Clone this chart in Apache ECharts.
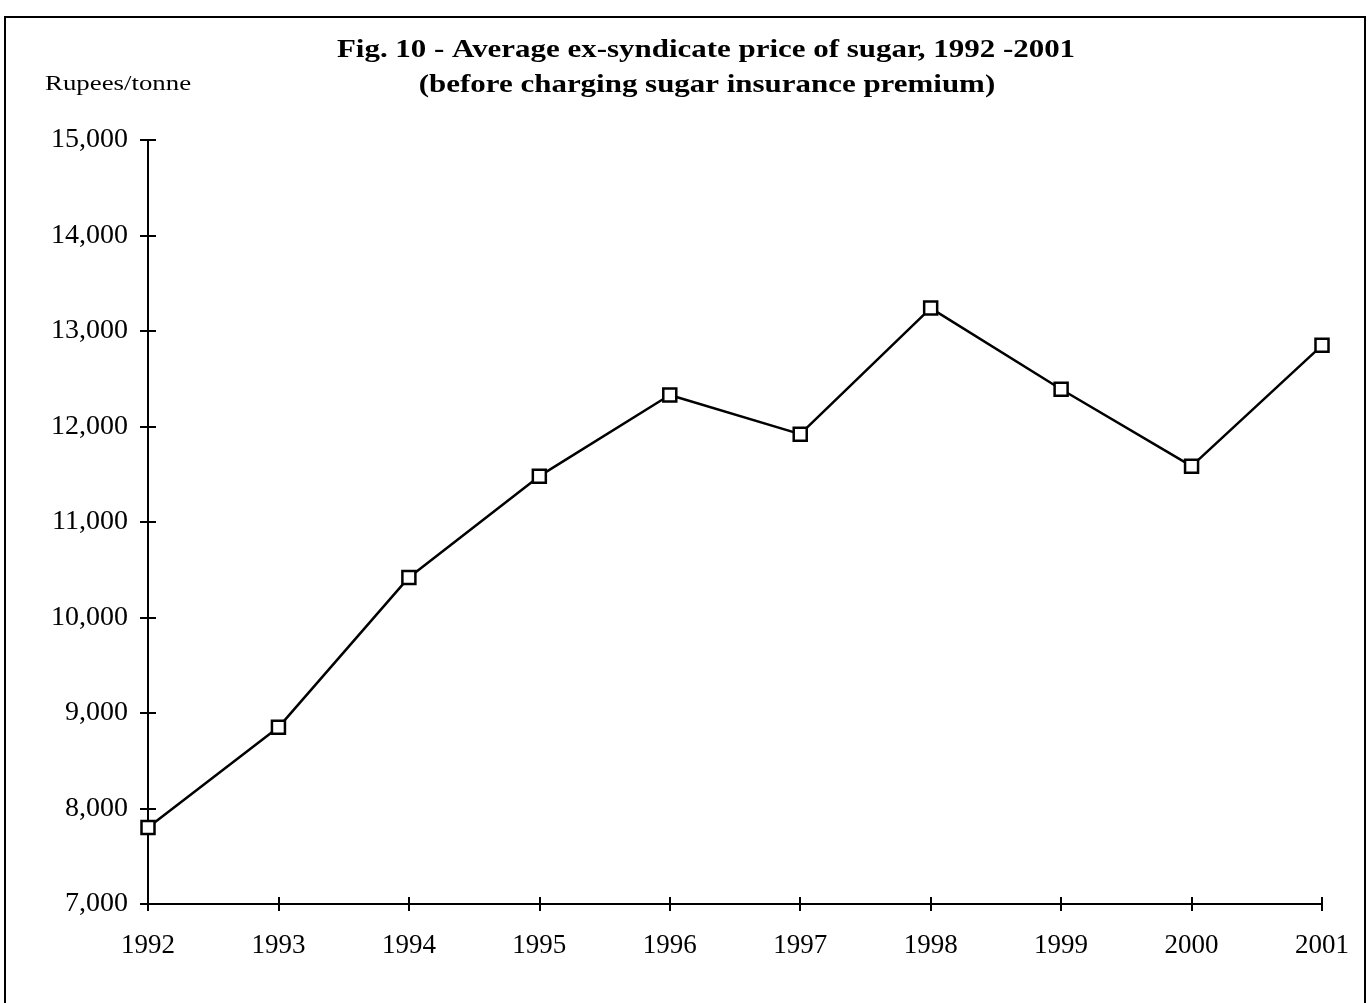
<!DOCTYPE html>
<html>
<head>
<meta charset="utf-8">
<script src="https://cdn.jsdelivr.net/npm/echarts@6/dist/echarts.min.js"></script>
<style>
html,body{margin:0;padding:0;background:#fff;}
#c{width:1370px;height:1003px;}
</style>
</head>
<body>
<div id="c"></div>
<script>
var years = ['1992','1993','1994','1995','1996','1997','1998','1999','2000','2001'];
var prices = [7800, 8850, 10420, 11480, 12330, 11920, 13240, 12390, 11585, 12850];
var yMin = 7000, yMax = 15000, yStep = 1000;
var titleLine1 = 'Fig. 10 - Average ex-syndicate price of sugar, 1992 -2001';
var titleLine2 = '(before charging sugar insurance premium)';
var unitLabel = 'Rupees/tonne';

var font = '"Liberation Serif", "Times New Roman", serif';
var chart = echarts.init(document.getElementById('c'), null, {renderer: 'canvas'});
chart.setOption({
  backgroundColor: '#fff',
  animation: false,
  graphic: [
    {type: 'rect', shape: {x: 5, y: 17, width: 1360, height: 1010}, style: {fill: null, stroke: '#000', lineWidth: 2}, silent: true},
    {type: 'text', x: 706, y: 50, scaleX: 1.19, silent: true,
     style: {text: titleLine1, font: 'bold 26px ' + font, fill: '#000', textAlign: 'center', textVerticalAlign: 'middle'}},
    {type: 'text', x: 707, y: 85, scaleX: 1.19, silent: true,
     style: {text: titleLine2, font: 'bold 26px ' + font, fill: '#000', textAlign: 'center', textVerticalAlign: 'middle'}},
    {type: 'text', x: 45, y: 84, scaleX: 1.22, silent: true,
     style: {text: unitLabel, font: '22px ' + font, fill: '#000', textAlign: 'left', textVerticalAlign: 'middle'}}
  ],
  grid: {left: 148, right: 48, top: 140, bottom: 99},
  xAxis: [
    {type: 'category', data: years, boundaryGap: false,
     axisLine: {lineStyle: {color: '#000', width: 2}},
     axisTick: {show: true, inside: false, length: 7, lineStyle: {color: '#000', width: 2}},
     axisLabel: {fontFamily: font, fontSize: 27, color: '#000', margin: 28},
     splitLine: {show: false}},
    {type: 'category', data: years, boundaryGap: false, position: 'bottom',
     axisLine: {show: false},
     axisTick: {show: true, inside: true, length: 7, lineStyle: {color: '#000', width: 2}},
     axisLabel: {show: false}, splitLine: {show: false}}
  ],
  yAxis: [
    {type: 'value', min: yMin, max: yMax, interval: yStep,
     axisLine: {show: true, lineStyle: {color: '#000', width: 2}},
     axisTick: {show: true, inside: false, length: 8, lineStyle: {color: '#000', width: 2}},
     axisLabel: {fontFamily: font, fontSize: 28, color: '#000', margin: 20,
       formatter: function(v){ return v.toLocaleString('en-US'); }},
     splitLine: {show: false}},
    {type: 'value', min: yMin, max: yMax, interval: yStep, position: 'left',
     axisLine: {show: false},
     axisTick: {show: true, inside: true, length: 8, lineStyle: {color: '#000', width: 2}},
     axisLabel: {show: false}, splitLine: {show: false}}
  ],
  series: [{
    type: 'line', data: prices, xAxisIndex: 0, yAxisIndex: 0,
    symbol: 'rect', symbolSize: 13,
    itemStyle: {color: '#fff', borderColor: '#000', borderWidth: 2.5},
    lineStyle: {color: '#000', width: 2.5},
    z: 5
  }]
});
</script>
</body>
</html>
